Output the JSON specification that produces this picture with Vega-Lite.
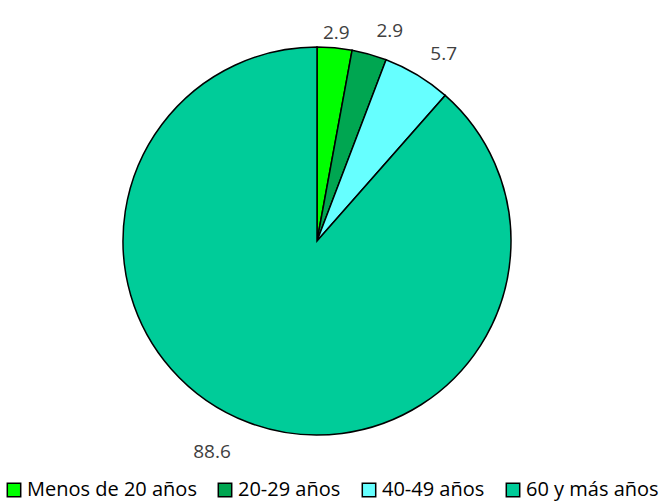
{
  "$schema": "https://vega.github.io/schema/vega-lite/v6.json",
  "width": 664,
  "height": 504,
  "autosize": "none",
  "padding": 0,
  "background": "white",
  "config": {"view": {"stroke": null}, "font": "Open Sans"},
  "data": {"values": [
    {"grupo": "Menos de 20 años", "valor": 2.9, "orden": 1, "etiqueta": "2.9"},
    {"grupo": "20-29 años", "valor": 2.9, "orden": 2, "etiqueta": "2.9"},
    {"grupo": "40-49 años", "valor": 5.7, "orden": 3, "etiqueta": "5.7"},
    {"grupo": "60 y más años", "valor": 88.6, "orden": 4, "etiqueta": "88.6"}
  ]},
  "encoding": {
    "theta": {"field": "valor", "type": "quantitative", "stack": true},
    "order": {"field": "orden", "type": "quantitative"}
  },
  "layer": [
    {
      "mark": {"type": "arc", "x": 317, "y": 241, "outerRadius": 194, "stroke": "black", "strokeWidth": 1.5},
      "encoding": {
        "color": {
          "field": "grupo", "type": "nominal",
          "sort": ["Menos de 20 años", "20-29 años", "40-49 años", "60 y más años"],
          "scale": {"domain": ["Menos de 20 años", "20-29 años", "40-49 años", "60 y más años"],
                    "range": ["#00FF00", "#00A651", "#66FFFF", "#00CC99"]},
          "legend": {
            "title": null, "orient": "none", "direction": "horizontal",
            "legendX": 4, "legendY": 480,
            "symbolType": "square", "symbolSize": 180, "symbolStrokeColor": "black", "symbolStrokeWidth": 1.5,
            "labelFontSize": 20, "labelColor": "black", "labelFont": "Open Sans", "labelLimit": 0,
            "columnPadding": 18, "symbolOffset": 0, "labelOffset": 3
          }
        }
      }
    },
    {
      "mark": {
        "type": "text", "x": 317, "y": 241,
        "radius": {"expr": "datum.orden == 1 ? 212 : datum.orden == 4 ? 235 : 218"},
        "dx": {"expr": "datum.orden == 4 ? -22 : datum.orden == 1 ? 0 : 14"},
        "dy": {"expr": "datum.orden == 4 ? -9 : datum.orden == 1 ? 3 : 0"},
        "fontSize": 19, "color": "#404040", "font": "Open Sans"
      },
      "encoding": {"text": {"field": "etiqueta"}}
    }
  ]
}
